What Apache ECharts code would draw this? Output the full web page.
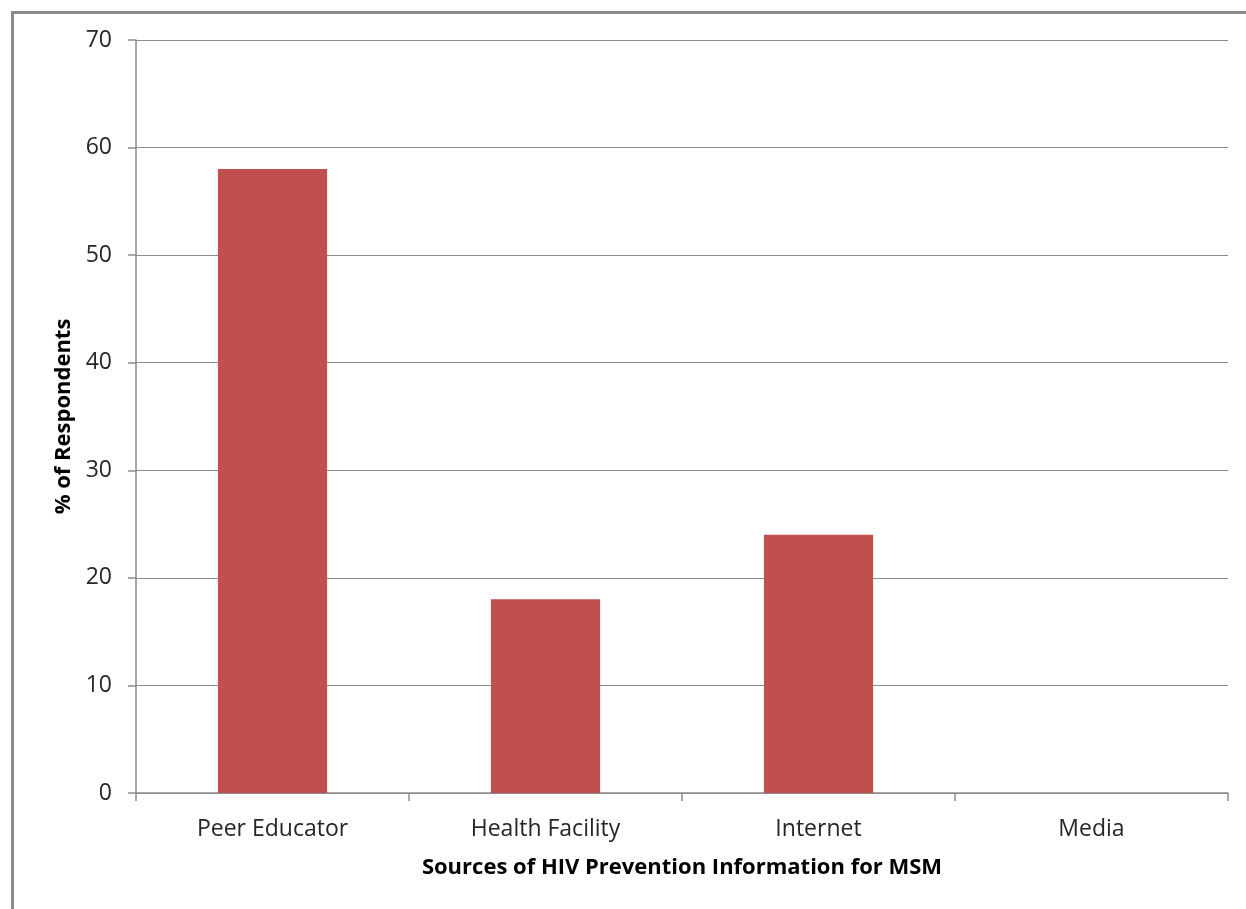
<!DOCTYPE html>
<html>
<head>
<meta charset="utf-8">
<script src="https://cdn.jsdelivr.net/npm/echarts@6/dist/echarts.min.js"></script>
<style>
  html, body { margin: 0; padding: 0; background: #fff; }
  #chart { width: 1246px; height: 909px; }
</style>
</head>
<body>
<div id="chart"></div>
<script>
// Sources of HIV prevention information among MSM respondents
const categories = ['Peer Educator', 'Health Facility', 'Internet', 'Media'];
const percentRespondents = [58, 18, 24, 0];
const yTicks = { min: 0, max: 70, interval: 10 };

const FONT = '"Open Sans", Lato, sans-serif';
const chart = echarts.init(document.getElementById('chart'), null, { renderer: 'canvas' });

chart.setOption({
  backgroundColor: '#ffffff',
  animation: false,
  graphic: [{
    type: 'rect',
    left: 10, top: 10,
    shape: { width: 1400, height: 1000 },
    style: { fill: 'none', stroke: '#8a8a8a', lineWidth: 3 },
    silent: true, z: -1
  }],
  grid: { left: 136, right: 18, top: 40, bottom: 116, containLabel: false },
  xAxis: {
    type: 'category',
    data: categories,
    boundaryGap: true,
    name: 'Sources of HIV Prevention Information for MSM',
    nameLocation: 'middle',
    nameGap: 64,
    nameTextStyle: { fontFamily: FONT, fontSize: 22, fontWeight: 'bold', color: '#000' },
    axisLine: { show: true, lineStyle: { color: '#8c8c8c', width: 1.5 } },
    axisTick: { show: true, alignWithLabel: false, length: 8, lineStyle: { color: '#8c8c8c', width: 1.5 } },
    axisLabel: { fontFamily: FONT, fontSize: 23, color: '#262626', margin: 25 },
    splitLine: { show: false }
  },
  yAxis: {
    type: 'value',
    min: yTicks.min, max: yTicks.max, interval: yTicks.interval,
    name: '% of Respondents',
    nameLocation: 'middle',
    nameGap: 61,
    nameRotate: 90,
    nameTextStyle: { fontFamily: FONT, fontSize: 22, fontWeight: 'bold', color: '#000' },
    axisLine: { show: true, lineStyle: { color: '#8c8c8c', width: 1.5 } },
    axisTick: { show: true, inside: false, length: 8, lineStyle: { color: '#8c8c8c', width: 1.5 } },
    axisLabel: { fontFamily: FONT, fontSize: 23, color: '#262626', margin: 24 },
    splitLine: { show: true, lineStyle: { color: '#8c8c8c', width: 1.2 } }
  },
  series: [{
    type: 'bar',
    data: percentRespondents,
    barWidth: '40%',
    itemStyle: { color: '#C0504D' }
  }]
});
</script>
</body>
</html>
